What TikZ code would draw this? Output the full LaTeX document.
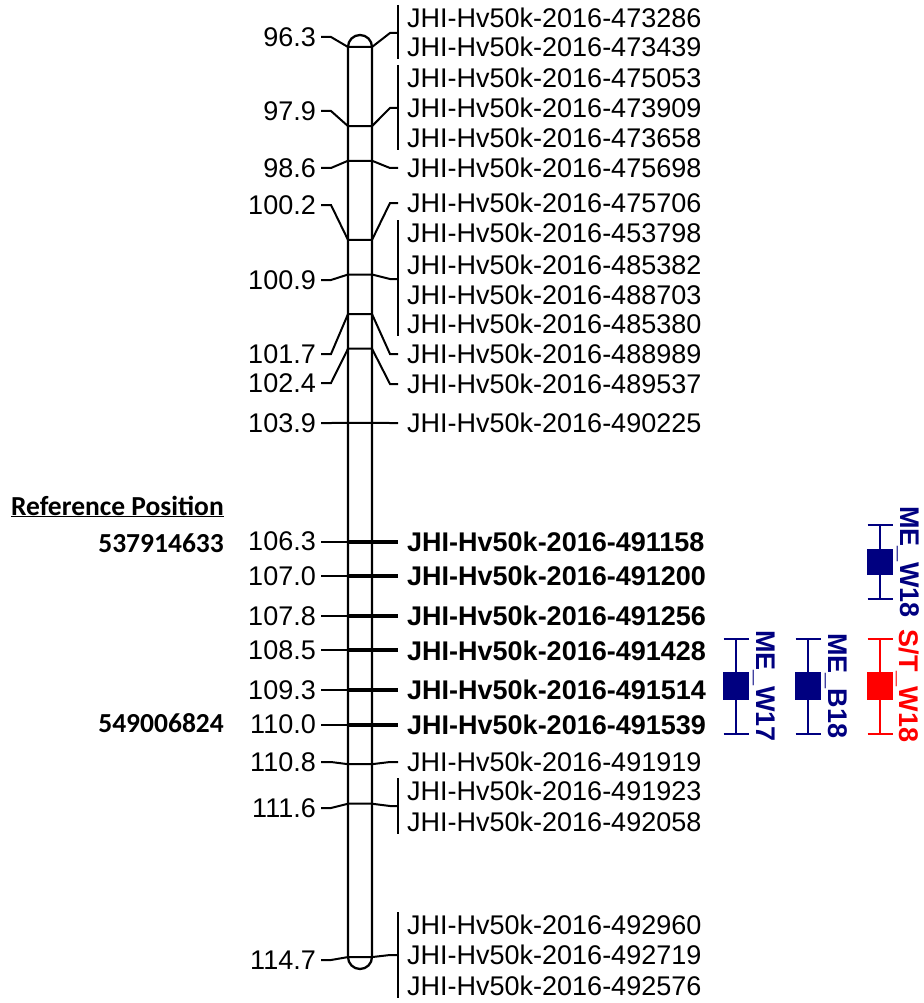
\documentclass[tikz,border=0pt]{standalone}
\usepackage{fontspec}
\setmainfont{Liberation Sans}
\newfontfamily\calfont{Carlito}
\definecolor{navy}{RGB}{0,0,128}
\definecolor{qred}{RGB}{255,0,0}
\begin{document}
\begin{tikzpicture}[x=1pt,y=-1pt,
  lab/.style={inner sep=0pt,font=\fontsize{27}{32}\selectfont},
  blab/.style={inner sep=0pt,font=\fontsize{27}{32}\selectfont\bfseries},
  reflab/.style={inner sep=0pt,font=\calfont\bfseries\fontsize{27.5}{32}\selectfont},
  conn/.style={line width=2pt},
  chrom/.style={line width=2.3pt},
  thickmark/.style={line width=4pt},
  qline/.style={line width=1.8pt},
  qbox/.style={inner sep=0pt,minimum width=26pt,line width=0pt},
  qlab/.style={inner sep=0pt,rotate=-90,font=\fontsize{27}{32}\selectfont\bfseries}]
\useasboundingbox (0,0) rectangle (923,1003);

% chromosome body
\draw[chrom,rounded corners=12pt] (348,35) rectangle (372,969);

% ordinary markers
\foreach \i/\cm/\ly/\ty in {1/96.3/37/33, 2/97.9/111/108, 3/98.6/168/168, 4/100.2/205/203,
  5/100.9/280/279, 6/101.7/354/354, 7/102.4/383/384, 8/103.9/423/423,
  15/110.8/762/762, 16/111.6/808/806, 17/114.7/960/955}
{
  \pgfmathsetmacro\my{47+(\cm-96.3)*49.46}
  \node[lab,anchor=east] (L\i) at (316,\ly) {\cm};
  \coordinate (CL\i) at (348,\my);
  \coordinate (CR\i) at (372,\my);
  \coordinate (T\i) at (398,\ty);
  \draw[conn] ([xshift=5pt]L\i.east) -- ([xshift=15pt]L\i.east) -- (CL\i) -- (CR\i) -- ([xshift=-8pt]T\i) -- (T\i);
}

% bold markers
\foreach \i/\cm/\code in {9/106.3/491158, 10/107.0/491200, 11/107.8/491256,
  12/108.5/491428, 13/109.3/491514, 14/110.0/491539}
{
  \pgfmathsetmacro\my{47+(\cm-96.3)*49.46}
  \node[lab,anchor=east] (L\i) at (316,\my) {\cm};
  \coordinate (CL\i) at (348,\my);
  \node[blab,anchor=west] (B\i) at (407,\my) {JHI-Hv50k-2016-\code};
  \draw[conn] ([xshift=5pt]L\i.east) -- (CL\i);
  \draw[thickmark] (CL\i) -- ([xshift=-9pt]B\i.west);
}

% ordinary marker names
\foreach \i/\y/\code in {1/18/473286, 2/47/473439, 3/78/475053, 4/108/473909, 5/138/473658,
  6/168/475698, 7/203/475706, 8/233/453798, 9/265/485382, 10/295/488703, 11/324/485380,
  12/354/488989, 13/384/489537, 14/423/490225, 21/762/491919, 22/791/491923, 23/822/492058,
  24/925/492960, 25/955/492719, 26/986/492576}
{
  \node[lab,anchor=west] (R\i) at (407,\y) {JHI-Hv50k-2016-\code};
}

% brackets for groups
\foreach \a/\b in {1/2, 3/5, 8/11, 22/23, 24/26}
{
  \draw[conn] ([xshift=-9pt,yshift=13pt]R\a.west) -- ([xshift=-9pt,yshift=-12pt]R\b.west);
}

% reference position
\node[reflab,anchor=base east] (refhead) at (224,515) {\underline{Reference Position}};
\node[reflab,anchor=east] (ref1) at (224,543) {537914633};
\node[reflab,anchor=east] (ref2) at (224,723) {549006824};

% QTL intervals
\foreach \n/\cx/\yt/\yb/\bc/\bh/\col/\txt in {
  w17/736/639/734/686/28/navy/{ME\_W17},
  b18/808/639/734/686/28/navy/{ME\_B18},
  st18/880/639/734/686/28/qred/{S/T\_W18},
  w18/880/525/599/562/26/navy/{ME\_W18}}
{
  \coordinate (\n t) at (\cx,\yt);
  \coordinate (\n b) at (\cx,\yb);
  \node[qbox,fill=\col,minimum height=\bh pt] (\n box) at (\cx,\bc) {};
  \draw[qline,\col] (\n t) -- (\n box.north);
  \draw[qline,\col] (\n box.south) -- (\n b);
  \draw[qline,\col] ([xshift=-12.5pt]\n t) -- ([xshift=12.5pt]\n t);
  \draw[qline,\col] ([xshift=-12.5pt]\n b) -- ([xshift=12.5pt]\n b);
  \node[qlab,text=\col] (\n lab) at (\cx+28,\bc) {\txt};
}
\end{tikzpicture}
\end{document}
